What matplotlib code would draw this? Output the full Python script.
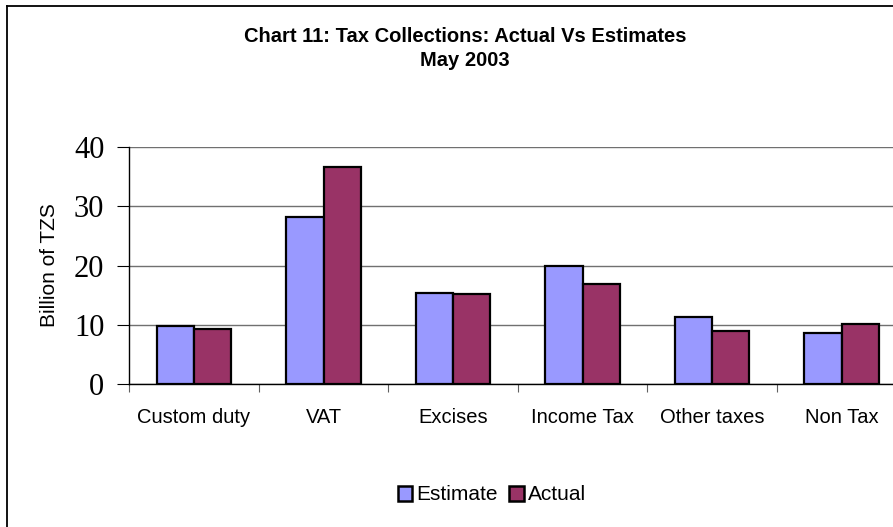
import numpy as np
import matplotlib
matplotlib.use("Agg")
from matplotlib import pyplot as plt
from matplotlib.lines import Line2D
from matplotlib.patches import Patch

categories = ["Custom duty", "VAT", "Excises", "Income Tax", "Other taxes", "Non Tax"]
estimate = [9.9, 28.2, 15.35, 19.9, 11.3, 8.7]
actual = [9.3, 36.6, 15.2, 16.9, 9.05, 10.1]
yticks = [0, 10, 20, 30, 40]

W, H = 893, 527
fig = plt.figure(figsize=(W / 100, H / 100), dpi=100)

# outer chart frame (only top and left edges fall inside the image)
fig.add_artist(Line2D([7 / W, 7 / W], [0, 1 - 6 / H], transform=fig.transFigure,
                      color="black", lw=1.3))
fig.add_artist(Line2D([7 / W, 1], [1 - 6 / H, 1 - 6 / H], transform=fig.transFigure,
                      color="black", lw=1.3))

ax = fig.add_axes([129.3 / W, 142.7 / H, 777 / W, 237.3 / H])

x = np.arange(len(categories))
bw = 0.288
ax.bar(x - bw / 2, estimate, bw, color="#9999FF", edgecolor="black", linewidth=1.6,
       label="Estimate", zorder=3)
ax.bar(x + bw / 2, actual, bw, color="#993366", edgecolor="black", linewidth=1.6,
       label="Actual", zorder=3)

ax.set_xlim(-0.5, len(categories) - 0.5)
ax.set_ylim(0, 40)
ax.set_yticks(yticks)
ax.set_yticklabels([str(t) for t in yticks], family="Liberation Serif", fontsize=22)
ax.yaxis.grid(True, color="#707070", lw=1.0)
ax.set_axisbelow(True)

ax.set_xticks(np.arange(len(categories) + 1) - 0.5)
ax.set_xticklabels([])
ax.set_xticks(x, minor=True)
ax.set_xticklabels(categories, minor=True, family="Liberation Sans", fontsize=14.5)
ax.tick_params(axis="x", which="minor", length=0, pad=17)
ax.tick_params(axis="x", which="major", length=6, direction="out", color="#606060")
ax.tick_params(axis="y", length=9, direction="out", pad=9)

for s in ["top", "right"]:
    ax.spines[s].set_visible(False)
ax.spines["left"].set_linewidth(1.0)
ax.spines["bottom"].set_linewidth(1.0)

ax.set_ylabel("Billion of TZS", family="Liberation Sans", fontsize=15)
ax.yaxis.set_label_coords((59 - 129.3) / 777, (384.3 - 265) / 237.3)

fig.text(465 / W, 1 - 37 / H, "Chart 11: Tax Collections: Actual Vs Estimates",
         ha="center", va="center", family="Liberation Sans", fontweight="bold", fontsize=14.5)
fig.text(465 / W, 1 - 61 / H, "May 2003",
         ha="center", va="center", family="Liberation Sans", fontweight="bold", fontsize=14.5)

handles = [Patch(facecolor="#9999FF", edgecolor="black", linewidth=1.8, label="Estimate"),
           Patch(facecolor="#993366", edgecolor="black", linewidth=1.8, label="Actual")]
fig.legend(handles=handles, loc="center", bbox_to_anchor=(492 / W, 1 - 495 / H),
           ncol=2, frameon=False, handlelength=0.7, handleheight=0.7, handletextpad=0.2,
           columnspacing=0.55, prop={"family": "Liberation Sans", "size": 15})

fig.savefig("out.png", dpi=100)
